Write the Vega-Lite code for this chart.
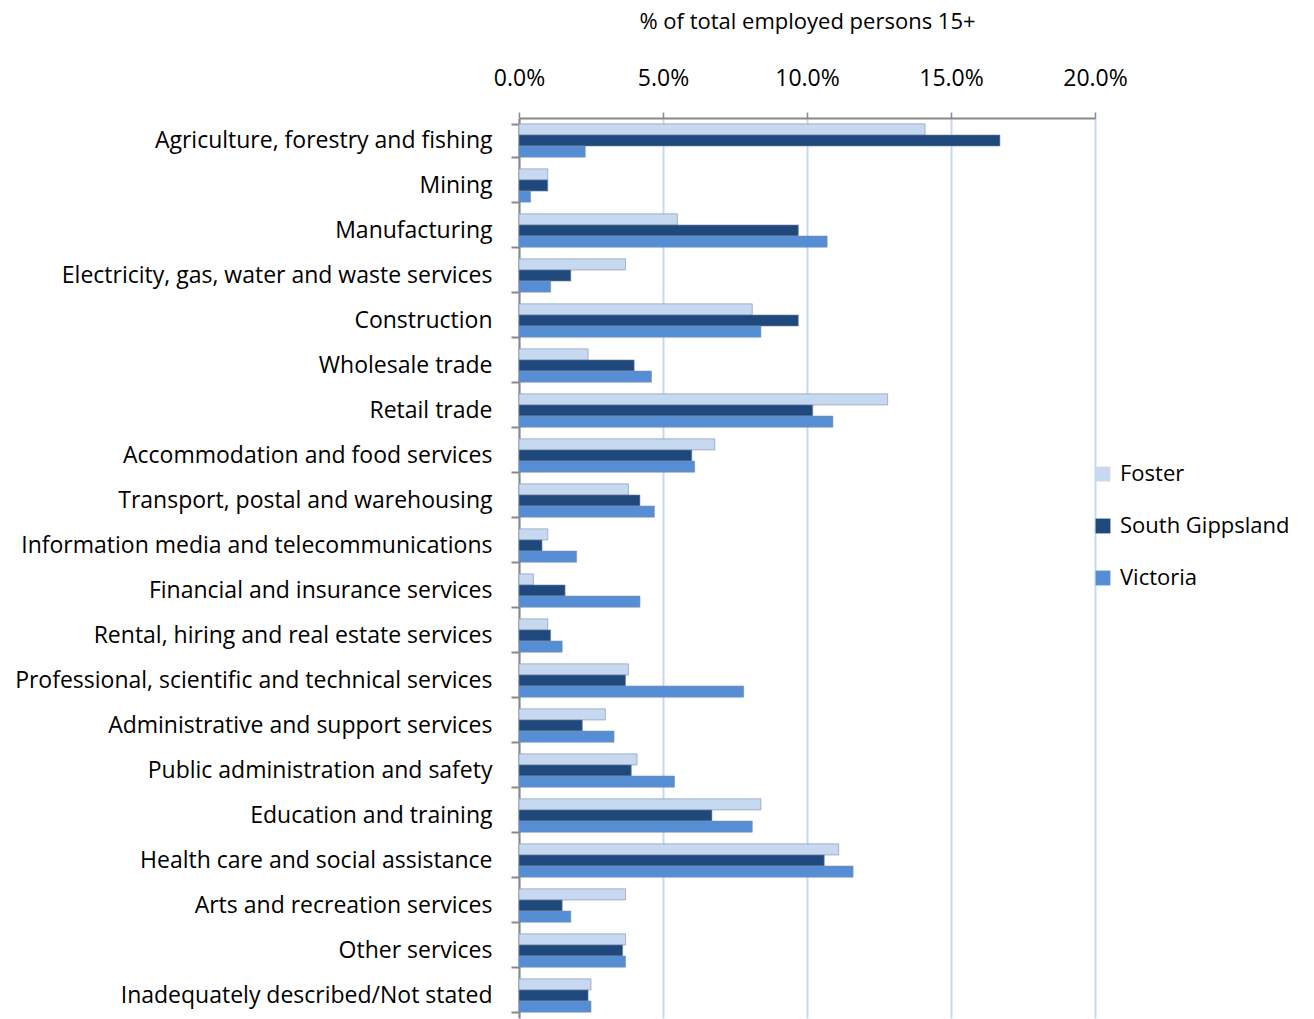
{
  "$schema": "https://vega.github.io/schema/vega-lite/v6.json",
  "autosize": "none",
  "width": 576,
  "height": 900,
  "padding": {"left": 519, "top": 118, "right": 219, "bottom": 1},
  "background": "white",
  "config": {
    "font": "Open Sans",
    "view": {"stroke": null}
  },
  "data": {
    "values": [
      {"industry": "Agriculture, forestry and fishing", "region": "Foster", "value": 0.141},
      {"industry": "Agriculture, forestry and fishing", "region": "South Gippsland", "value": 0.167},
      {"industry": "Agriculture, forestry and fishing", "region": "Victoria", "value": 0.023},
      {"industry": "Mining", "region": "Foster", "value": 0.010},
      {"industry": "Mining", "region": "South Gippsland", "value": 0.010},
      {"industry": "Mining", "region": "Victoria", "value": 0.004},
      {"industry": "Manufacturing", "region": "Foster", "value": 0.055},
      {"industry": "Manufacturing", "region": "South Gippsland", "value": 0.097},
      {"industry": "Manufacturing", "region": "Victoria", "value": 0.107},
      {"industry": "Electricity, gas, water and waste services", "region": "Foster", "value": 0.037},
      {"industry": "Electricity, gas, water and waste services", "region": "South Gippsland", "value": 0.018},
      {"industry": "Electricity, gas, water and waste services", "region": "Victoria", "value": 0.011},
      {"industry": "Construction", "region": "Foster", "value": 0.081},
      {"industry": "Construction", "region": "South Gippsland", "value": 0.097},
      {"industry": "Construction", "region": "Victoria", "value": 0.084},
      {"industry": "Wholesale trade", "region": "Foster", "value": 0.024},
      {"industry": "Wholesale trade", "region": "South Gippsland", "value": 0.040},
      {"industry": "Wholesale trade", "region": "Victoria", "value": 0.046},
      {"industry": "Retail trade", "region": "Foster", "value": 0.128},
      {"industry": "Retail trade", "region": "South Gippsland", "value": 0.102},
      {"industry": "Retail trade", "region": "Victoria", "value": 0.109},
      {"industry": "Accommodation and food services", "region": "Foster", "value": 0.068},
      {"industry": "Accommodation and food services", "region": "South Gippsland", "value": 0.060},
      {"industry": "Accommodation and food services", "region": "Victoria", "value": 0.061},
      {"industry": "Transport, postal and warehousing", "region": "Foster", "value": 0.038},
      {"industry": "Transport, postal and warehousing", "region": "South Gippsland", "value": 0.042},
      {"industry": "Transport, postal and warehousing", "region": "Victoria", "value": 0.047},
      {"industry": "Information media and telecommunications", "region": "Foster", "value": 0.010},
      {"industry": "Information media and telecommunications", "region": "South Gippsland", "value": 0.008},
      {"industry": "Information media and telecommunications", "region": "Victoria", "value": 0.020},
      {"industry": "Financial and insurance services", "region": "Foster", "value": 0.005},
      {"industry": "Financial and insurance services", "region": "South Gippsland", "value": 0.016},
      {"industry": "Financial and insurance services", "region": "Victoria", "value": 0.042},
      {"industry": "Rental, hiring and real estate services", "region": "Foster", "value": 0.010},
      {"industry": "Rental, hiring and real estate services", "region": "South Gippsland", "value": 0.011},
      {"industry": "Rental, hiring and real estate services", "region": "Victoria", "value": 0.015},
      {"industry": "Professional, scientific and technical services", "region": "Foster", "value": 0.038},
      {"industry": "Professional, scientific and technical services", "region": "South Gippsland", "value": 0.037},
      {"industry": "Professional, scientific and technical services", "region": "Victoria", "value": 0.078},
      {"industry": "Administrative and support services", "region": "Foster", "value": 0.030},
      {"industry": "Administrative and support services", "region": "South Gippsland", "value": 0.022},
      {"industry": "Administrative and support services", "region": "Victoria", "value": 0.033},
      {"industry": "Public administration and safety", "region": "Foster", "value": 0.041},
      {"industry": "Public administration and safety", "region": "South Gippsland", "value": 0.039},
      {"industry": "Public administration and safety", "region": "Victoria", "value": 0.054},
      {"industry": "Education and training", "region": "Foster", "value": 0.084},
      {"industry": "Education and training", "region": "South Gippsland", "value": 0.067},
      {"industry": "Education and training", "region": "Victoria", "value": 0.081},
      {"industry": "Health care and social assistance", "region": "Foster", "value": 0.111},
      {"industry": "Health care and social assistance", "region": "South Gippsland", "value": 0.106},
      {"industry": "Health care and social assistance", "region": "Victoria", "value": 0.116},
      {"industry": "Arts and recreation services", "region": "Foster", "value": 0.037},
      {"industry": "Arts and recreation services", "region": "South Gippsland", "value": 0.015},
      {"industry": "Arts and recreation services", "region": "Victoria", "value": 0.018},
      {"industry": "Other services", "region": "Foster", "value": 0.037},
      {"industry": "Other services", "region": "South Gippsland", "value": 0.036},
      {"industry": "Other services", "region": "Victoria", "value": 0.037},
      {"industry": "Inadequately described/Not stated", "region": "Foster", "value": 0.025},
      {"industry": "Inadequately described/Not stated", "region": "South Gippsland", "value": 0.024},
      {"industry": "Inadequately described/Not stated", "region": "Victoria", "value": 0.025}
    ]
  },
  "mark": {"type": "bar", "stroke": "#7f8fa6", "strokeWidth": 0.6},
  "encoding": {
    "y": {
      "field": "industry",
      "type": "nominal",
      "sort": null,
      "scale": {"paddingInner": 0.26, "paddingOuter": 0.13},
      "axis": {
        "title": null,
        "labelFontSize": 23,
        "labelColor": "#000000",
        "labelPadding": 19,
        "labelLimit": 600,
        "domainColor": "#888888",
        "domainWidth": 2,
        "tickColor": "#888888",
        "tickSize": 8,
        "tickWidth": 2,
        "tickBand": "extent",
        "grid": false
      }
    },
    "yOffset": {
      "field": "region",
      "type": "nominal",
      "sort": ["Foster", "South Gippsland", "Victoria"],
      "scale": {"paddingInner": 0}
    },
    "x": {
      "field": "value",
      "type": "quantitative",
      "scale": {"domain": [0, 0.2], "nice": false},
      "axis": {
        "orient": "top",
        "format": ".1%",
        "values": [0, 0.05, 0.1, 0.15, 0.2],
        "labelFlush": false,
        "labelOverlap": false,
        "title": "% of total employed persons 15+",
        "titleFontSize": 22,
        "titleFontWeight": "normal",
        "titleColor": "#000000",
        "titlePadding": 34,
        "labelFontSize": 23,
        "labelColor": "#000000",
        "labelPadding": 22,
        "domainColor": "#888888",
        "domainWidth": 2,
        "tickColor": "#888888",
        "tickSize": 6,
        "tickWidth": 1.5,
        "grid": true,
        "gridColor": "#c6d9f1",
        "gridWidth": 2
      }
    },
    "color": {
      "field": "region",
      "type": "nominal",
      "sort": ["Foster", "South Gippsland", "Victoria"],
      "scale": {
        "domain": ["Foster", "South Gippsland", "Victoria"],
        "range": ["#c6d9f0", "#1f497d", "#558ed5"]
      },
      "legend": {
        "title": null,
        "orient": "none",
        "legendX": 573,
        "legendY": 345,
        "symbolType": "square",
        "symbolSize": 220,
        "symbolStrokeWidth": 0,
        "labelFontSize": 22,
        "labelLimit": 400,
        "labelColor": "#000000",
        "rowPadding": 30,
        "labelOffset": 6
      }
    }
  }
}
